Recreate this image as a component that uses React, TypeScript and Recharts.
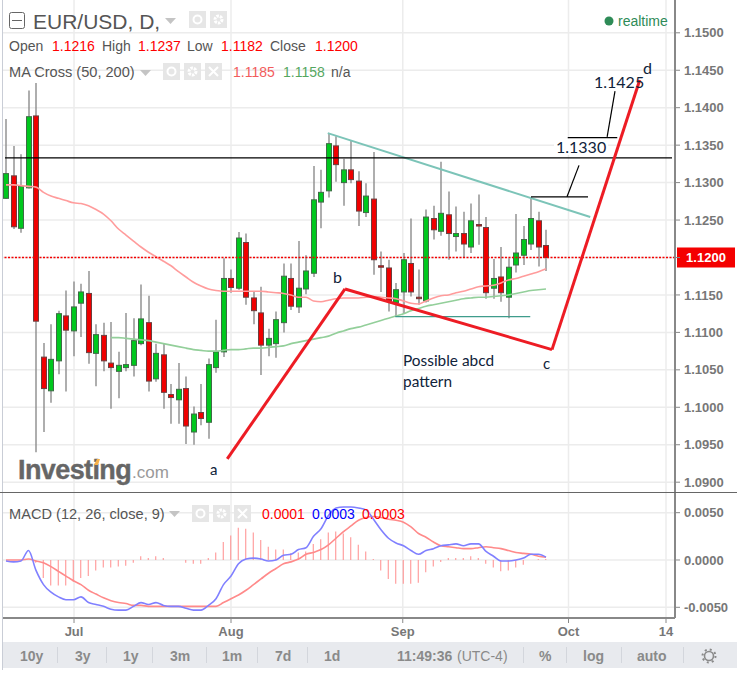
import { Bar, CartesianGrid, ComposedChart, Line, ReferenceLine, XAxis, YAxis } from 'recharts';
import type { CSSProperties } from 'react';

const opens = [
  1.1279, 1.1309, 1.1239, 1.1293, 1.1389, 1.1067, 1.1022, 1.1062, 1.1122, 1.1102, 1.1139, 1.1152, 1.1072, 1.1096, 1.1059,
  1.1048, 1.1053, 1.1056, 1.1085, 1.1113, 1.1038, 1.107, 1.1017, 1.101, 1.1025, 1.0967, 1.0993, 1.098, 1.1053, 1.1074,
  1.1172, 1.1159, 1.122, 1.1146, 1.1126, 1.1083, 1.1085, 1.1113, 1.1172, 1.1134, 1.1158, 1.1179, 1.1274, 1.1289, 1.1349,
  1.13, 1.1317, 1.1302, 1.126, 1.1278, 1.1189, 1.1186, 1.114, 1.1154, 1.1192, 1.1147, 1.1142, 1.1252, 1.1235, 1.1257,
  1.1228, 1.1232, 1.1214, 1.1244, 1.124, 1.1159, 1.1174, 1.1147, 1.119, 1.1203, 1.1218, 1.1249, 1.1216,
];
const highs = [
  1.1385, 1.1349, 1.1338, 1.1423, 1.1433, 1.1086, 1.1111, 1.1129, 1.1156, 1.1168, 1.1165, 1.1182, 1.1111, 1.1113, 1.1114,
  1.1074, 1.1126, 1.1119, 1.1164, 1.1149, 1.1085, 1.1085, 1.1031, 1.1059, 1.1041, 1.1001, 1.1031, 1.1065, 1.1117, 1.1199,
  1.1184, 1.1234, 1.1232, 1.1154, 1.1161, 1.1105, 1.1128, 1.1192, 1.1192, 1.1222, 1.1203, 1.1322, 1.1317, 1.1366, 1.1362,
  1.1332, 1.1356, 1.1315, 1.1299, 1.1341, 1.1208, 1.1197, 1.1166, 1.1206, 1.1252, 1.1184, 1.1264, 1.1269, 1.1328, 1.1288,
  1.1268, 1.1261, 1.1272, 1.1284, 1.1254, 1.1198, 1.1214, 1.1199, 1.1258, 1.1242, 1.128, 1.1261, 1.1237,
];
const lows = [
  1.1278, 1.1238, 1.1233, 1.1292, 1.094, 1.0967, 1.1006, 1.1044, 1.1021, 1.1068, 1.1094, 1.1058, 1.1028, 1.1048, 1.0998,
  1.1012, 1.1048, 1.1041, 1.1083, 1.1021, 1.1034, 1.0998, 1.0978, 1.0978, 1.0951, 1.095, 1.0976, 1.0958, 1.1046, 1.1067,
  1.1153, 1.1157, 1.1137, 1.1111, 1.1043, 1.1068, 1.1066, 1.11, 1.113, 1.1126, 1.1151, 1.1174, 1.1239, 1.128, 1.1301,
  1.1269, 1.1299, 1.1242, 1.1254, 1.1177, 1.1154, 1.1128, 1.1121, 1.1126, 1.1148, 1.1137, 1.114, 1.1224, 1.1229, 1.1197,
  1.1208, 1.12, 1.1206, 1.1217, 1.1145, 1.1145, 1.1141, 1.1119, 1.118, 1.119, 1.121, 1.1188, 1.1182,
];
const closes = [
  1.1312, 1.1241, 1.1295, 1.1388, 1.1115, 1.1025, 1.1064, 1.1125, 1.1103, 1.1134, 1.1154, 1.1073, 1.1097, 1.1062, 1.1053,
  1.1056, 1.1057, 1.1089, 1.1118, 1.1035, 1.1072, 1.102, 1.1013, 1.1024, 1.0975, 1.0991, 1.0985, 1.1057, 1.1074, 1.1172,
  1.116, 1.1226, 1.1147, 1.1129, 1.1083, 1.1092, 1.1117, 1.1175, 1.1135, 1.1159, 1.1182, 1.1277, 1.1287, 1.1352, 1.1324,
  1.1317, 1.1304, 1.1262, 1.1282, 1.1197, 1.1187, 1.1142, 1.1157, 1.1197, 1.1154, 1.1145, 1.1254, 1.1237, 1.1259, 1.1232,
  1.1232, 1.1218, 1.1249, 1.1242, 1.1153, 1.1172, 1.1153, 1.1187, 1.1206, 1.1224, 1.1252, 1.1214, 1.12,
];
const ma50 = [
  1.1297, 1.1297, 1.1296, 1.1295, 1.1294, 1.1287, 1.1282, 1.1279, 1.1276, 1.1273, 1.1272, 1.1269, 1.1264, 1.1258, 1.1249,
  1.1238, 1.123, 1.1222, 1.1214, 1.1207, 1.1201, 1.1195, 1.1189, 1.1181, 1.1174, 1.1167, 1.1162, 1.1158, 1.1156, 1.1155,
  1.1155, 1.1155, 1.1155, 1.1155, 1.1155, 1.1154, 1.1153, 1.1152, 1.115, 1.1147, 1.1147, 1.1142, 1.1141, 1.1143, 1.1145,
  1.1146, 1.1146, 1.1146, 1.1147, 1.1148, 1.1147, 1.1146, 1.1145, 1.1142, 1.1139, 1.1138, 1.1142, 1.1146, 1.1149, 1.115,
  1.1153, 1.1155, 1.1158, 1.1161, 1.1162, 1.1163, 1.1166, 1.117, 1.1172, 1.1175, 1.1178, 1.1181, 1.1185,
];
const ma200 = [
  null, null, null, null, null, null, null, null, null, null, null, null, null, null, 1.1093,
  1.1093, 1.1092, 1.1091, 1.109, 1.1089, 1.1087, 1.1085, 1.1083, 1.1081, 1.1079, 1.1077, 1.1076, 1.1075, 1.1075, 1.1076,
  1.1077, 1.1077, 1.1078, 1.1079, 1.1079, 1.108, 1.1081, 1.1082, 1.1085, 1.1087, 1.1089, 1.1091, 1.1093, 1.1095, 1.1099,
  1.1102, 1.1105, 1.1107, 1.111, 1.1113, 1.1116, 1.1119, 1.1122, 1.1125, 1.1129, 1.1132, 1.1135, 1.1137, 1.1139, 1.1141,
  1.1143, 1.1145, 1.1146, 1.1147, 1.1147, 1.1148, 1.1149, 1.115, 1.1152, 1.1154, 1.1156, 1.1157, 1.1158,
];
const macdLine = [
  -0.0001, -0.0002, -0.0001, 0.001, -0.0011, -0.0026, -0.0034, -0.0039, -0.0042, -0.0042, -0.0039, -0.0045, -0.0047, -0.0049, -0.0052,
  -0.0053, -0.0053, -0.0049, -0.0045, -0.0047, -0.0045, -0.0048, -0.0049, -0.0049, -0.0051, -0.0053, -0.0053, -0.0048, -0.0041, -0.0026,
  -0.0017, -0.0004, 0.0001, 0.0002, 0.0001, -0.0001, 0, 0.0005, 0.0006, 0.0011, 0.0013, 0.0025, 0.0033, 0.0047, 0.0055,
  0.0056, 0.0056, 0.0055, 0.0053, 0.0043, 0.0032, 0.0023, 0.0018, 0.0015, 0.001, 0.0006, 0.001, 0.0012, 0.0015, 0.0016,
  0.0017, 0.0015, 0.0017, 0.0017, 0.0009, 0.0004, -0.0001, -0.0001, 0, 0.0002, 0.0006, 0.0006, 0.0003,
];
const signalLine = [
  0, 0, 0, 0.0001, -0.0001, -0.0003, -0.0007, -0.0012, -0.0017, -0.0022, -0.0026, -0.0032, -0.0036, -0.004, -0.0043,
  -0.0045, -0.0046, -0.0048, -0.0048, -0.0049, -0.0049, -0.0049, -0.0049, -0.0049, -0.0049, -0.0049, -0.0049, -0.0049, -0.0049, -0.0045,
  -0.0041, -0.0037, -0.0032, -0.0026, -0.002, -0.0014, -0.0009, -0.0004, -0.0002, 0.0001, 0.0006, 0.0008, 0.0011, 0.0016, 0.0023,
  0.003, 0.0036, 0.0042, 0.0045, 0.0046, 0.0045, 0.0043, 0.0042, 0.004, 0.0035, 0.0028, 0.0024, 0.0019, 0.0015, 0.0014,
  0.0013, 0.0012, 0.0012, 0.0013, 0.0014, 0.0013, 0.0012, 0.001, 0.0008, 0.0007, 0.0006, 0.0004, 0.0003,
];
const histogram = [
  0, 0, 0, 0, -0.0003, -0.0019, -0.0027, -0.0027, -0.0027, -0.0023, -0.0019, -0.0017, -0.0011, -0.0008, -0.0008,
  -0.0007, -0.0006, -0.0003, 0.0004, 0.0002, 0.0004, 0.0002, 0, 0, -0.0003, -0.0004, -0.0004, 0.0002, 0.0008, 0.0019,
  0.0026, 0.0034, 0.0033, 0.0029, 0.0021, 0.0014, 0.0011, 0.0011, 0.0007, 0.0008, 0.0009, 0.0017, 0.0022, 0.0029, 0.003,
  0.0028, 0.0024, 0.0016, 0.0009, 0.0001, -0.0011, -0.002, -0.0025, -0.0025, -0.0025, -0.0024, -0.0013, -0.0007, -0.0002, 0.0002,
  0.0002, 0.0002, 0.0004, 0.0002, -0.0004, -0.0008, -0.0012, -0.0011, -0.0008, -0.0005, 0, 0.0001, 0.0001,
];

const priceTicks = [1.09, 1.095, 1.1, 1.105, 1.11, 1.115, 1.12, 1.125, 1.13, 1.135, 1.14, 1.145, 1.15];
const macdTicks = [-0.005, 0, 0.005];
const dateTicks = [9.07, 30, 52.9, 75, 88];
const dateLabels = ['Jul', 'Aug', 'Sep', 'Oct', '14'];
const rangeButtons = ['10y', '3y', '1y', '3m', '1m', '7d', '1d'];
const X_DOMAIN: [number, number] = [-0.4, 89.2];
const LAST_CLOSE = 1.12;

// hand drawn abcd legs, trendlines and callouts: [index, price] pairs
const abcd = [[29.5, 1.0931], [45.2, 1.1158], [72.8, 1.1077], [84.5, 1.1437]];
const trendTop = [[42.9, 1.1366], [77.9, 1.1254]];
const trendFloor = [[51.9, 1.1121], [69.9, 1.1121]];
const blackLines = [
  [[-0.13, 1.1333], [88.8, 1.1333]],
  [[74.9, 1.136], [81.5, 1.136]],
  [[80.15, 1.1361], [81.2, 1.1422]],
  [[70, 1.1281], [77.6, 1.1281]],
  [[74.8, 1.1281], [76.4, 1.1323]],
];

const rows = opens.map((open, i) => ({
  i,
  open,
  high: highs[i],
  low: lows[i],
  close: closes[i],
  ma50: ma50[i],
  ma200: ma200[i],
  macd: macdLine[i],
  signal: signalLine[i],
  hist: histogram[i],
}));

const seg = (a: number[], b: number[]) => [{ x: a[0], y: a[1] }, { x: b[0], y: b[1] }] as any;

function Candle(props: any) {
  const { x, y, width, height, payload } = props;
  const { open, high, low, close } = payload;
  const cx = Math.round(x + width / 2);
  const perUnit = height / (high - low);
  const top = y + (high - Math.max(open, close)) * perUnit;
  const bottom = y + (high - Math.min(open, close)) * perUnit;
  const up = close >= open;
  return (
    <g>
      <line x1={cx} x2={cx} y1={y} y2={y + height} stroke="#8c8c8c" strokeWidth={1.4} />
      <rect
        x={cx - 2.5}
        y={top}
        width={5}
        height={Math.max(bottom - top, 1)}
        fill={up ? '#00c81e' : '#f00000'}
        stroke={up ? '#3f6b46' : '#6b3f3f'}
        strokeWidth={1}
      />
    </g>
  );
}

function PriceTag({ viewBox }: any) {
  const right = viewBox.x + viewBox.width;
  return (
    <g>
      <rect x={right + 2} y={viewBox.y - 10} width={58} height={20} fill="#f40000" />
      <text x={right + 31} y={viewBox.y + 4.5} textAnchor="middle" fontSize={13} fontWeight="bold" fill="#fff">1.1200</text>
    </g>
  );
}

function Txt({ x, y, color = '#555', size = 14, style, children }: { x: number; y: number; color?: string; size?: number; style?: CSSProperties; children: any }) {
  return (
    <span style={{ position: 'absolute', left: x, top: y, color, fontSize: size, lineHeight: 1, whiteSpace: 'nowrap', ...style }}>
      {children}
    </span>
  );
}

function IconBox({ x, y, kind }: { x: number; y: number; kind: 'eye' | 'gear' | 'close' }) {
  return (
    <svg style={{ position: 'absolute', left: x, top: y }} width={17} height={17}>
      <rect width={17} height={17} fill="#e6e6e6" />
      {kind === 'eye' && <circle cx={8.5} cy={8.5} r={4} fill="none" stroke="#fff" strokeWidth={2} />}
      {kind === 'gear' && <circle cx={8.5} cy={8.5} r={3.5} fill="none" stroke="#fff" strokeWidth={3} strokeDasharray="2.5 1" />}
      {kind === 'close' && <path d="M4 4L13 13M13 4L4 13" stroke="#fff" strokeWidth={2} />}
    </svg>
  );
}

function Caret({ x, y }: { x: number; y: number }) {
  return (
    <svg style={{ position: 'absolute', left: x, top: y }} width={11} height={6}>
      <path d="M0 0H11L5.5 6Z" fill="#c4c4c4" />
    </svg>
  );
}

export default function App() {
  return (
    <div style={{ position: 'absolute', left: 0, top: 0, width: 737, height: 673, background: '#fff', fontFamily: '"Liberation Sans", Arial, sans-serif', overflow: 'hidden' }}>
      <div style={{ position: 'absolute', left: 2, top: 0, width: 1, height: 670, background: '#c9cdd6' }} />

      <div style={{ position: 'absolute', left: 0, top: 0 }}>
        <ComposedChart width={737} height={492} data={rows} margin={{ top: 0, right: 0, bottom: 0, left: 3 }}>
          <CartesianGrid
            stroke="#ececec"
            strokeWidth={1.5}
            horizontalValues={priceTicks}
            verticalValues={dateTicks}
          />
          <XAxis dataKey="i" type="number" domain={X_DOMAIN} allowDataOverflow hide />
          <YAxis
            orientation="right"
            width={62}
            domain={[1.08869, 1.15438]}
            allowDataOverflow
            ticks={priceTicks}
            interval={0}
            tickFormatter={(v: number) => (v === LAST_CLOSE ? '' : v.toFixed(4))}
            tick={{ fontSize: 13, fontWeight: 'bold', fill: '#777' }}
            tickSize={5}
            tickMargin={4}
            tickLine={{ stroke: '#888' }}
            axisLine={{ stroke: '#888', strokeWidth: 2 }}
          />
          <Line dataKey="ma50" type="monotone" stroke="#ff9c9c" strokeWidth={1.6} dot={false} isAnimationActive={false} />
          <Line dataKey="ma200" type="monotone" stroke="#93cf9a" strokeWidth={1.6} dot={false} connectNulls={false} isAnimationActive={false} />
          <Bar dataKey={(d: any) => [d.low, d.high]} barSize={6} shape={<Candle />} isAnimationActive={false} />
          <ReferenceLine y={LAST_CLOSE} stroke="#f40000" strokeWidth={1.6} strokeDasharray="2 1.5" label={<PriceTag />} />
          <ReferenceLine segment={seg(trendTop[0], trendTop[1])} stroke="#7cc4b8" strokeWidth={2} ifOverflow="visible" />
          <ReferenceLine segment={seg(trendFloor[0], trendFloor[1])} stroke="#3f9c8c" strokeWidth={1.3} ifOverflow="visible" />
          {blackLines.map((l, i) => (
            <ReferenceLine key={`black-${i}`} segment={seg(l[0], l[1])} stroke="#000" strokeWidth={1.2} ifOverflow="visible" />
          ))}
          {abcd.slice(1).map((p, i) => (
            <ReferenceLine key={`leg-${i}`} segment={seg(abcd[i], p)} stroke="#ed1c24" strokeWidth={3} ifOverflow="visible" />
          ))}
        </ComposedChart>
      </div>

      <div style={{ position: 'absolute', left: 0, top: 493 }}>
        <ComposedChart width={737} height={149} data={rows} margin={{ top: 0, right: 0, bottom: 0, left: 3 }}>
          <CartesianGrid
            stroke="#ececec"
            strokeWidth={1.5}
            horizontalValues={macdTicks}
            verticalValues={dateTicks}
          />
          <XAxis
            dataKey="i"
            type="number"
            domain={X_DOMAIN}
            allowDataOverflow
            height={24}
            ticks={dateTicks}
            interval={0}
            tickFormatter={(v: number) => dateLabels[dateTicks.indexOf(v)]}
            tick={{ fontSize: 13, fontWeight: 'bold', fill: '#777' }}
            tickSize={5}
            tickMargin={4}
            tickLine={{ stroke: '#888' }}
            axisLine={{ stroke: '#888', strokeWidth: 2 }}
          />
          <YAxis
            orientation="right"
            width={62}
            domain={[-0.00613, 0.00708]}
            allowDataOverflow
            ticks={macdTicks}
            interval={0}
            tickFormatter={(v: number) => v.toFixed(4)}
            tick={{ fontSize: 13, fontWeight: 'bold', fill: '#777' }}
            tickSize={5}
            tickMargin={4}
            tickLine={{ stroke: '#888' }}
            axisLine={{ stroke: '#888', strokeWidth: 2 }}
          />
          <Bar dataKey="hist" barSize={1} fill="#ff8c8c" isAnimationActive={false} />
          <Line dataKey="signal" type="monotone" stroke="#ff8a8a" strokeWidth={1.6} dot={false} isAnimationActive={false} />
          <Line dataKey="macd" type="monotone" stroke="#8080ff" strokeWidth={1.6} dot={false} isAnimationActive={false} />
        </ComposedChart>
      </div>

      <div style={{ position: 'absolute', left: 0, top: 492, width: 737, height: 1, background: '#666' }} />

      {/* legend rows */}
      <svg style={{ position: 'absolute', left: 9, top: 12 }} width={17} height={17}>
        <rect x={0.5} y={0.5} width={15} height={16} rx={2} fill="#fff" stroke="#666" />
        <path d="M3 8.5H13" stroke="#666" />
      </svg>
      <Txt x={33} y={11} size={21}>EUR/USD, D,</Txt>
      <Caret x={165} y={18} />
      <IconBox x={189} y={11} kind="eye" />
      <IconBox x={210} y={11} kind="gear" />
      <Txt x={9} y={39}>Open</Txt>
      <Txt x={52} y={39} color="#f00">1.1216</Txt>
      <Txt x={102} y={39}>High</Txt>
      <Txt x={138} y={39} color="#f00">1.1237</Txt>
      <Txt x={187} y={39}>Low</Txt>
      <Txt x={221} y={39} color="#f00">1.1182</Txt>
      <Txt x={270} y={39}>Close</Txt>
      <Txt x={315} y={39} color="#f00">1.1200</Txt>
      <Txt x={9} y={65} size={14.6}>MA Cross (50, 200)</Txt>
      <Caret x={140} y={70} />
      <IconBox x={163} y={63} kind="eye" />
      <IconBox x={184} y={63} kind="gear" />
      <IconBox x={205} y={63} kind="close" />
      <Txt x={233} y={65} color="#f25c5c">1.1185</Txt>
      <Txt x={283} y={65} color="#55a75f">1.1158</Txt>
      <Txt x={331} y={65}>n/a</Txt>

      <svg style={{ position: 'absolute', left: 604, top: 16 }} width={10} height={10}>
        <circle cx={5} cy={5} r={4.5} fill="#2e8b57" />
      </svg>
      <Txt x={618} y={14} color="#2e8b57">realtime</Txt>

      {/* chart notes */}
      <Txt x={594} y={74} size={16} color="#10233a" style={{ fontFamily: 'Lato' }}>1.1425</Txt>
      <Txt x={643} y={60} size={16} color="#10233a" style={{ fontFamily: 'Lato' }}>d</Txt>
      <Txt x={554} y={139} size={16} color="#10233a" style={{ fontFamily: 'Lato', background: '#fff', padding: '0 2px' }}>1.1330</Txt>
      <Txt x={333} y={269} size={16} color="#10233a" style={{ fontFamily: 'Lato' }}>b</Txt>
      <Txt x={210} y={462} size={15} color="#10233a" style={{ fontFamily: 'Lato' }}>a</Txt>
      <Txt x={543} y={356} size={15} color="#10233a" style={{ fontFamily: 'Lato' }}>c</Txt>
      <Txt x={403} y={353} size={15.4} color="#10233a" style={{ fontFamily: 'Lato' }}>Possible abcd</Txt>
      <Txt x={403} y={374} size={15.4} color="#10233a" style={{ fontFamily: 'Lato' }}>pattern</Txt>

      {/* watermark */}
      <Txt x={18} y={457} size={27} color="#666" style={{ fontWeight: 'bold', letterSpacing: -0.6, WebkitTextStroke: '0.4px #666' }}>Investing</Txt>
      <Txt x={132} y={464} size={17} color="#999">.com</Txt>
      <svg style={{ position: 'absolute', left: 93, top: 458 }} width={8} height={7}>
        <path d="M1 7L4 1H7L5 7Z" fill="#f7b24a" />
      </svg>

      {/* macd legend */}
      <Txt x={9} y={507} size={14.6}>MACD (12, 26, close, 9)</Txt>
      <Caret x={169} y={511} />
      <IconBox x={192} y={505} kind="eye" />
      <IconBox x={213} y={505} kind="gear" />
      <IconBox x={234} y={505} kind="close" />
      <Txt x={262} y={507} color="#f00">0.0001</Txt>
      <Txt x={312} y={507} color="#00f">0.0003</Txt>
      <Txt x={362} y={507} color="#f00">0.0003</Txt>

      {/* bottom toolbar */}
      <div style={{ position: 'absolute', left: 3, top: 642, width: 734, height: 26, background: '#e8eaee' }} />
      {[57, 106, 152, 206, 257, 307, 523, 566, 621, 683].map((x) => (
        <div key={x} style={{ position: 'absolute', left: x, top: 647, width: 1, height: 16, background: '#d3d6dc' }} />
      ))}
      {rangeButtons.map((label, i) => (
        <Txt key={label} x={[20, 75, 123, 170, 222, 275, 324][i]} y={649} color="#8a8a8a" style={{ fontWeight: 'bold' }}>{label}</Txt>
      ))}
      <Txt x={397} y={649} color="#8a8a8a" style={{ fontWeight: 'bold' }}>11:49:36</Txt>
      <Txt x={457} y={649} color="#8a8a8a">(UTC-4)</Txt>
      <Txt x={539} y={649} color="#8a8a8a" style={{ fontWeight: 'bold' }}>%</Txt>
      <Txt x={583} y={649} color="#8a8a8a" style={{ fontWeight: 'bold' }}>log</Txt>
      <Txt x={637} y={649} color="#8a8a8a" style={{ fontWeight: 'bold' }}>auto</Txt>
      <svg style={{ position: 'absolute', left: 701, top: 648 }} width={16} height={16}>
        <circle cx={8} cy={8} r={4.5} fill="none" stroke="#8a8a8a" strokeWidth={1.6} />
        <circle cx={8} cy={8} r={6.5} fill="none" stroke="#8a8a8a" strokeWidth={2} strokeDasharray="2 3.1" />
      </svg>
    </div>
  );
}
